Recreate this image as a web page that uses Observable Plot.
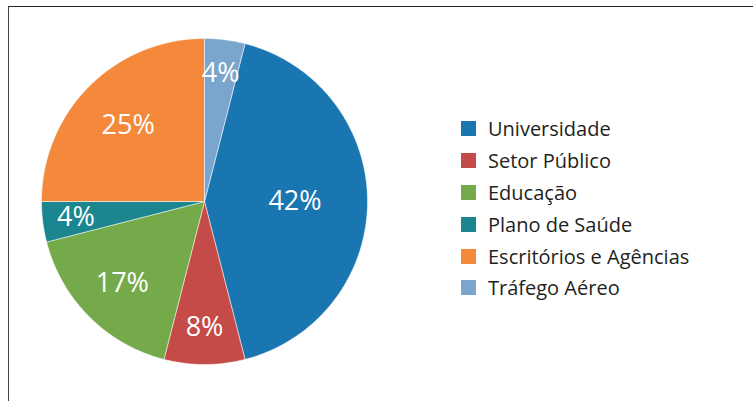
<!DOCTYPE html>
<html><head><meta charset="utf-8">
<script src="https://cdn.jsdelivr.net/npm/d3@7"></script>
<script src="https://cdn.jsdelivr.net/npm/@observablehq/plot@0.6"></script>
<style>
body{margin:0;background:#fff;}
#wrap{position:relative;width:753px;height:401px;overflow:hidden;background:#fff;}
#frame{position:absolute;left:7.5px;top:6px;width:900px;height:600px;border-left:1.5px solid #444;border-top:1.5px solid #222;}
#chart{position:absolute;left:0;top:0;}
#legend{position:absolute;left:461px;top:113px;}
.lg-swatch{height:31.8px !important;margin:0 !important;padding:0 !important;display:flex !important;align-items:center !important;}
.lg-swatch svg{margin-right:12px !important;flex-shrink:0;}
.lg-label{white-space:nowrap;}
</style></head><body>
<div id="wrap"><div id="frame"></div><div id="chart"></div><div id="legend"></div></div>
<script>
const categories = ["Universidade", "Setor Público", "Educação", "Plano de Saúde", "Escritórios e Agências", "Tráfego Aéreo"];
const shares = [42, 8, 17, 4, 25, 4];
const labels = ["42%", "8%", "17%", "4%", "25%", "4%"];
const colors = ["#1a76b0", "#c54b48", "#75aa4b", "#1b8690", "#f4893c", "#7aa6cd"];

const total = d3.sum(shares);
const start = 2 * Math.PI * shares[shares.length - 1] / total;
const arcs = d3.pie().sort(null).value(d => d)
  .startAngle(start).endAngle(start + 2 * Math.PI)(shares);

const pts = [];
const lab = [];
arcs.forEach((a, i) => {
  const cat = categories[i];
  pts.push({cat, x: 0, y: 0});
  const n = Math.max(2, Math.ceil((a.endAngle - a.startAngle) / 0.01));
  for (let k = 0; k <= n; k++) {
    const t = a.startAngle + (a.endAngle - a.startAngle) * k / n;
    pts.push({cat, x: Math.sin(t), y: Math.cos(t)});
  }
  pts.push({cat, x: 0, y: 0});
  const f = shares[i] / total;
  const r = 0.82 - 0.63 * f;
  const m = (a.startAngle + a.endAngle) / 2;
  lab.push({cat, x: r * Math.sin(m), y: r * Math.cos(m), text: labels[i]});
});

const R = 163, cx = 204, cy = 201, W = 753, H = 401;
const chart = Plot.plot({
  width: W, height: H, margin: 0,
  x: {domain: [-cx / R, (W - cx) / R], axis: null},
  y: {domain: [-(H - cy) / R, cy / R], axis: null},
  color: {domain: categories, range: colors},
  style: {background: "transparent"},
  marks: [
    Plot.line(pts, {x: "x", y: "y", z: "cat", fill: "cat", stroke: "white", strokeWidth: 0.5, curve: "linear"}),
    Plot.text(lab, {x: "x", y: "y", text: "text", fill: "white", fontSize: 27, fontFamily: "Open Sans"})
  ]
});
document.getElementById("chart").appendChild(chart);

const legend = Plot.legend({
  color: {domain: categories, range: colors},
  legend: "swatches", columns: 1, swatchSize: 15, className: "lg",
  style: {fontSize: "20px", fontFamily: "Open Sans", color: "#231f20"}
});
document.getElementById("legend").appendChild(legend);
</script>
</body></html>
